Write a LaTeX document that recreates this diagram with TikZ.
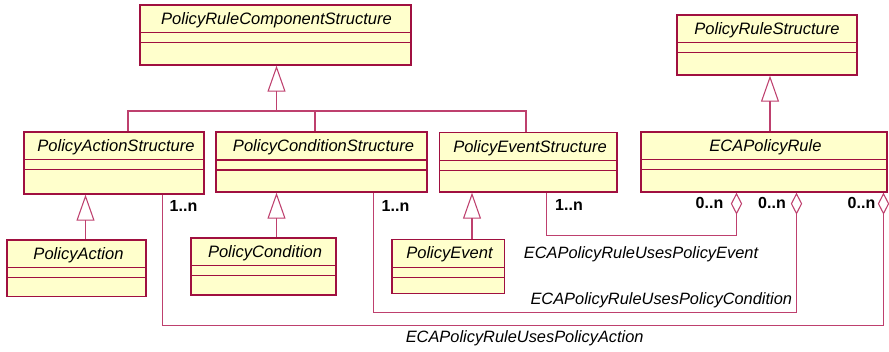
\documentclass[tikz,border=0pt]{standalone}
\usepackage{fontspec}
\setmainfont{Liberation Sans}
\usetikzlibrary{arrows.meta,fit}
\definecolor{umlborder}{RGB}{160,16,64}
\definecolor{umlline}{RGB}{190,64,110}
\definecolor{umlfill}{RGB}{255,255,204}
\begin{document}
\begin{tikzpicture}[x=0.75pt,y=-0.75pt,
  classbox/.style={draw=umlborder, line width=1pt, fill=umlfill, inner sep=0pt},
  classname/.style={font=\fontsize{12.4}{14}\selectfont\itshape, inner sep=0pt},
  classrule/.style={draw=umlborder, line width=0.8pt},
  genline/.style={draw=umlline, line width=0.8pt, -{Triangle[open, length=19.5pt, width=13.5pt]}},
  bus/.style={draw=umlline, line width=0.8pt},
  aggline/.style={draw=umlline, line width=0.8pt, -{Diamond[open, length=16.5pt, width=8.5pt]}},
  mult/.style={font=\fontsize{12}{14}\selectfont\bfseries, inner sep=0pt},
  assocname/.style={font=\fontsize{12.3}{14}\selectfont\itshape, inner sep=0pt}]

\useasboundingbox (0,0) rectangle (889,351);

% top level classes
\node [classbox, fit={(140,5) (411,65)}] (prcs) {};
\node [classname] (prcs-name) at (276.5,20) {PolicyRuleComponentStructure};
\draw [classrule] (140,32.5) -- (411,32.5);
\draw [classrule] (140,42.5) -- (411,42.5);

\node [classbox, fit={(677,15) (857,75)}] (prs) {};
\node [classname] (prs-name) at (767,30.5) {PolicyRuleStructure};
\draw [classrule] (677,42.7) -- (857,42.7);
\draw [classrule] (677,52.7) -- (857,52.7);

% structure classes
\node [classbox, fit={(24,132) (204,194)}] (pas) {};
\node [classname] (pas-name) at (116,147) {PolicyActionStructure};
\draw [classrule] (24,159.5) -- (204,159.5);
\draw [classrule] (24,169.5) -- (204,169.5);

\node [classbox, fit={(216,132) (427,192)}] (pcs) {};
\node [classname] (pcs-name) at (323.5,147.5) {PolicyConditionStructure};
\draw [classrule] (216,160) -- (427,160);
\draw [classrule] (216,170) -- (427,170);

\node [classbox, fit={(439.5,132.5) (617,192)}] (pes) {};
\node [classname] (pes-name) at (530,148) {PolicyEventStructure};
\draw [classrule] (439.5,160.5) -- (617,160.5);
\draw [classrule] (439.5,170.5) -- (617,170.5);

\node [classbox, fit={(641,132) (887,192)}] (eca) {};
\node [classname] (eca-name) at (765.5,147.5) {ECAPolicyRule};
\draw [classrule] (641,159.5) -- (887,159.5);
\draw [classrule] (641,169.5) -- (887,169.5);

% leaf classes
\node [classbox, fit={(7,240) (146,296.5)}] (pa) {};
\node [classname] (pa-name) at (78.5,255) {PolicyAction};
\draw [classrule] (7,267.5) -- (146,267.5);
\draw [classrule] (7,277.5) -- (146,277.5);

\node [classbox, fit={(191,238) (336,295)}] (pc) {};
\node [classname] (pc-name) at (265,253) {PolicyCondition};
\draw [classrule] (191,265.7) -- (336,265.7);
\draw [classrule] (191,275.7) -- (336,275.7);

\node [classbox, fit={(392,239.5) (504.5,293.5)}] (pe) {};
\node [classname] (pe-name) at (449.5,254.5) {PolicyEvent};
\draw [classrule] (392,267.3) -- (504.5,267.3);
\draw [classrule] (392,277.3) -- (504.5,277.3);

% generalisations
\coordinate (bus) at (276.5,111);
\draw [bus] (pas.north -| 128,0) |- (bus);
\draw [bus] (pcs.north -| 315,0) |- (bus);
\draw [bus] (pes.north -| 526,0) |- (bus);
\draw [genline] (bus) -- (prcs.south -| bus);
\draw [genline] (eca.north -| 770,0) -- (prs.south -| 770,0);
\draw [genline] (pa.north -| 85.5,0) -- (pas.south -| 85.5,0);
\draw [genline] (pc.north -| 276.5,0) -- (pcs.south -| 276.5,0);
\draw [genline] (pe.north -| 472,0) -- (pes.south -| 472,0);

% aggregations
\draw [aggline] (pes.south -| 546.5,0) |- (736.5,235.5) -- (eca.south -| 736.5,0);
\draw [aggline] (pcs.south -| 373.5,0) |- (796.5,312.5) -- (eca.south -| 796.5,0);
\draw [aggline] (pas.south -| 162.5,0) |- (883.5,325.5) -- (eca.south -| 883.5,0);

% multiplicities
\node [mult] (m-pas) at (183.5,206) {1..n};
\node [mult] (m-pcs) at (395.5,206) {1..n};
\node [mult] (m-pes) at (569,205) {1..n};
\node [mult] (m-eca1) at (709.5,202.5) {0..n};
\node [mult] (m-eca2) at (772,202.5) {0..n};
\node [mult] (m-eca3) at (861.5,202.5) {0..n};

% association names
\node [assocname] (a-event) at (641,254) {ECAPolicyRuleUsesPolicyEvent};
\node [assocname] (a-cond) at (661.3,300) {ECAPolicyRuleUsesPolicyCondition};
\node [assocname] (a-action) at (524.7,338.5) {ECAPolicyRuleUsesPolicyAction};
\end{tikzpicture}
\end{document}
